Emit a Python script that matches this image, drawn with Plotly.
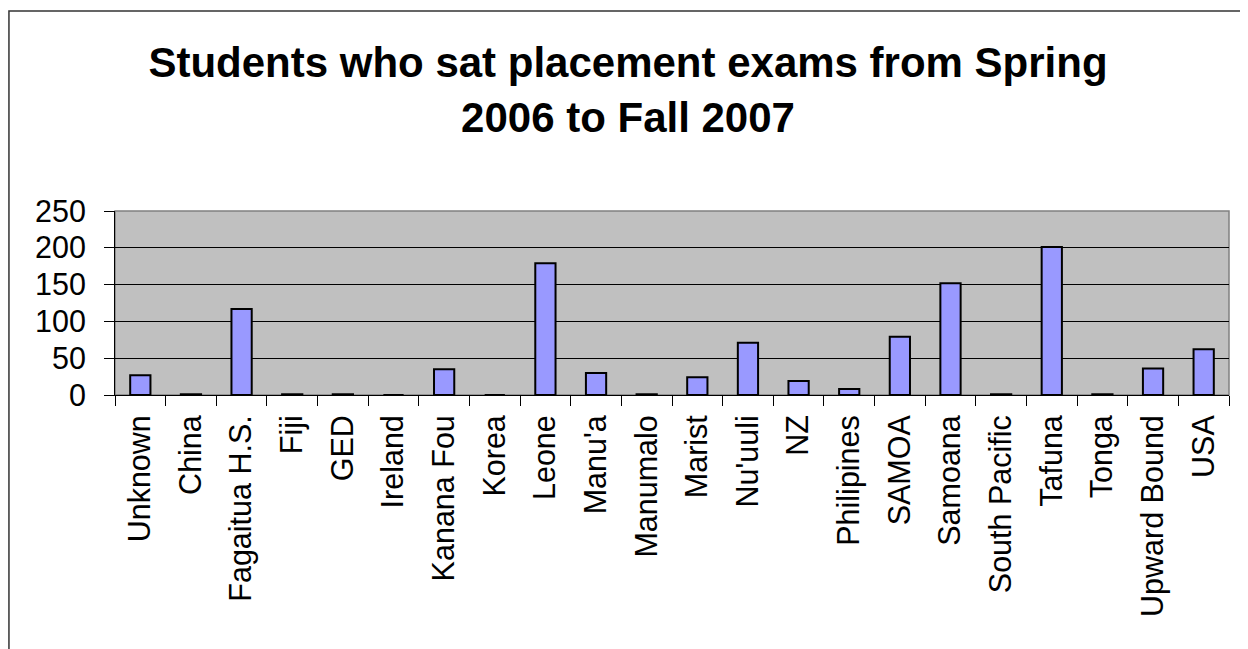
import plotly.graph_objects as go

# data
schools = ["Unknown", "China", "Fagaitua H.S.", "Fiji", "GED", "Ireland", "Kanana Fou",
           "Korea", "Leone", "Manu'a", "Manumalo", "Marist", "Nu'uuli", "NZ", "Philipines",
           "SAMOA", "Samoana", "South Pacific", "Tafuna", "Tonga", "Upward Bound", "USA"]
students = [27, 1, 117, 1, 1, 0, 35, 0, 179, 30, 1, 24, 71, 19, 8,
            79, 152, 1, 201, 1, 36, 62]
y_ticks = [0, 50, 100, 150, 200, 250]

FONT = "Arial, Liberation Sans, sans-serif"

fig = go.Figure()
fig.add_trace(go.Bar(
    x=schools, y=students,
    marker=dict(color="#9999FF", line=dict(color="black", width=2)),
))

# page body has an 8px margin, so the figure is laid out 8px up/left
fig.update_layout(
    width=1248, height=649,
    margin=dict(l=107, r=27, t=203, b=262, autoexpand=False),
    paper_bgcolor="white",
    plot_bgcolor="#C0C0C0",
    bargap=0.6,
    showlegend=False,
    font=dict(family=FONT, color="black", size=30),
    title=dict(
        text="<b>Students who sat placement exams from Spring<br>2006 to Fall 2007</b>",
        x=620 / 1248, xref="container", xanchor="center",
        y=1 - 69 / 649, yref="container", yanchor="top",
        font=dict(family=FONT, size=42, color="black"),
    ),
)

fig.update_xaxes(
    type="category",
    tickangle=-90,
    tickson="boundaries",
    ticks="outside", ticklen=10, tickcolor="black",
    showline=True, linecolor="black", linewidth=1,
    showgrid=False,
    automargin=False,
    ticklabelstandoff=7,
    tickfont=dict(family=FONT, size=30.5, color="black"),
)
fig.update_yaxes(
    range=[0, 250],
    tickvals=y_ticks,
    ticks="outside", ticklen=10, tickcolor="black",
    showline=True, linecolor="black", linewidth=1,
    showgrid=True, gridcolor="black", gridwidth=1,
    zeroline=False,
    automargin=False,
    ticklabelstandoff=12,
    tickfont=dict(family=FONT, size=30.5, color="black"),
)

# grey border round the plot area, like the Excel chart
fig.add_shape(type="rect", xref="paper", yref="paper", x0=0, x1=1, y0=0, y1=1,
              line=dict(color="#808080", width=1.5), layer="below")
# outer chart frame (bottom edge runs off the picture)
fig.add_shape(type="rect", xref="paper", yref="paper", x0=-0.0952, x1=1.0144,
              y0=-1.5, y1=2.087, line=dict(color="#333333", width=1.5))

fig.write_html("out.html")
